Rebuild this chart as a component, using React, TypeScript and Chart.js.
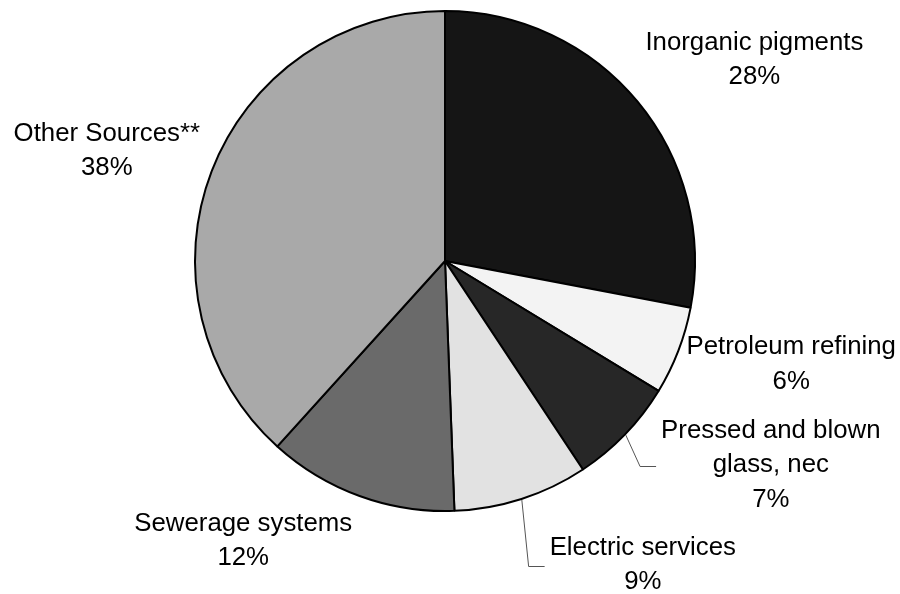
import React, { useEffect, useRef } from "react";
import { Chart, registerables } from "chart.js";

Chart.register(...registerables);

const categories: string[][] = [
  ["Inorganic pigments"],
  ["Petroleum refining"],
  ["Pressed and blown", "glass, nec"],
  ["Electric services"],
  ["Sewerage systems"],
  ["Other Sources**"],
];
const shares: number[] = [28.0, 5.7, 7.0, 8.7, 12.3, 38.3];
const fills: string[] = ["#151515", "#f3f3f3", "#272727", "#e2e2e2", "#6a6a6a", "#a9a9a9"];

// label block offsets from the slice's mid-edge point (layout only)
const labelOffsets: [number, number][] = [
  [116, -41],
  [112, 13],
  [145, 30],
  [121, 65],
  [-116, 44],
  [-104, -20],
];
const hasLeader: boolean[] = [false, false, true, true, false, false];

const FONT = '25.8px "Liberation Sans", Arial, sans-serif';
const LINE_H = 34.5;

const labelPlugin = {
  id: "pieLabels",
  afterDraw(chart: any) {
    const ctx = chart.ctx as CanvasRenderingContext2D;
    const meta = chart.getDatasetMeta(0);
    ctx.save();
    ctx.font = FONT;
    ctx.textAlign = "center";
    ctx.textBaseline = "middle";
    meta.data.forEach((arc: any, i: number) => {
      const p = arc.getProps(["x", "y", "startAngle", "endAngle", "outerRadius"], true);
      const mid = (p.startAngle + p.endAngle) / 2;
      const r = p.outerRadius + 1;
      const ex = p.x + Math.cos(mid) * r;
      const ey = p.y + Math.sin(mid) * r;
      const cx = ex + labelOffsets[i][0];
      const cy = ey + labelOffsets[i][1];
      const lines = [...categories[i], Math.round(shares[i]) + "%"];
      let maxW = 0;
      lines.forEach((l) => (maxW = Math.max(maxW, ctx.measureText(l).width)));
      const top = cy - ((lines.length - 1) * LINE_H) / 2;
      ctx.fillStyle = "#000";
      lines.forEach((l, k) => ctx.fillText(l, cx, top + k * LINE_H));
      if (hasLeader[i]) {
        const left = cx - maxW / 2;
        const ly = Math.round(cy + 1) + 0.5;
        ctx.beginPath();
        ctx.strokeStyle = "#555";
        ctx.lineWidth = 1;
        ctx.moveTo(ex, ey);
        ctx.lineTo(left - 21, ly);
        ctx.lineTo(left - 5, ly);
        ctx.stroke();
      }
    });
    ctx.restore();
  },
};

export default function App() {
  const ref = useRef<HTMLCanvasElement | null>(null);
  useEffect(() => {
    if (!ref.current) return;
    const chart = new Chart(ref.current, {
      type: "pie",
      data: {
        labels: categories.map((c) => c.join(" ")),
        datasets: [
          {
            data: shares,
            backgroundColor: fills,
            borderColor: "#000",
            borderWidth: 2,
          },
        ],
      },
      options: {
        responsive: false,
        animation: false,
        layout: { padding: { left: 194, right: 204, top: 10, bottom: 82 } },
        plugins: {
          legend: { display: false },
          tooltip: { enabled: false },
        },
      },
      plugins: [labelPlugin],
    });
    return () => chart.destroy();
  }, []);
  return (
    <div style={{ position: "fixed", left: 0, top: 0, width: 900, height: 594, background: "#fff" }}>
      <canvas ref={ref} width={900} height={594} style={{ display: "block" }} />
    </div>
  );
}
